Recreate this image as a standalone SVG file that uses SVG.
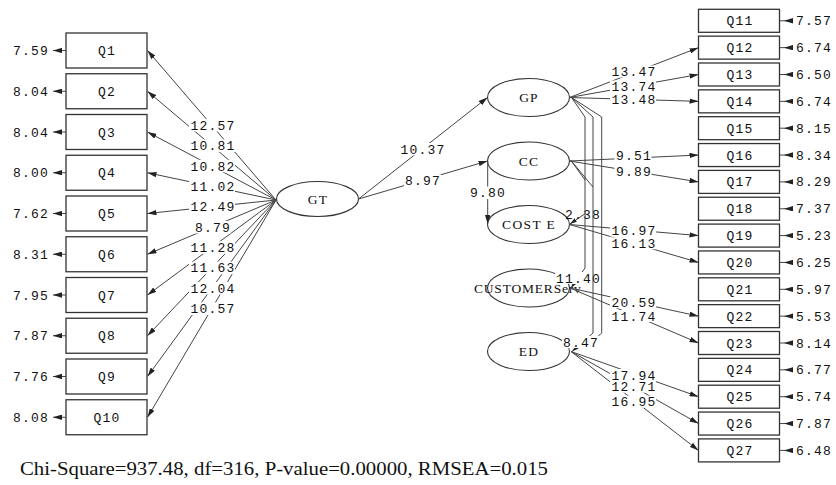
<svg xmlns="http://www.w3.org/2000/svg" width="836" height="485" viewBox="0 0 836 485">
<defs>
<marker id="ah" viewBox="0 0 10 6" refX="10" refY="3" markerWidth="9" markerHeight="5.4" markerUnits="userSpaceOnUse" orient="auto"><path d="M0,0 L10,3 L0,6 z" fill="#222"/></marker>
<marker id="ahs" viewBox="0 0 10 6" refX="10" refY="3" markerWidth="7" markerHeight="4.2" markerUnits="userSpaceOnUse" orient="auto"><path d="M0,0 L10,3 L0,6 z" fill="#222"/></marker>
</defs>
<style>
.box{fill:#fff;stroke:#333;stroke-width:1.3}
.ell{fill:#fff;stroke:#333;stroke-width:1.1}
.m{font-family:"Liberation Mono",monospace;font-size:13px;letter-spacing:1.2px;fill:#111}
.mc{text-anchor:middle}
.mr{text-anchor:end}
.s{font-family:"Liberation Serif",serif;font-size:13.5px;letter-spacing:1.2px;fill:#111;text-anchor:middle}
.ln{fill:none;stroke:#444;stroke-width:1}
.arr{fill:none;stroke:#444;stroke-width:1;marker-end:url(#ah)}
.bg{fill:#fff}
</style>
<rect width="836" height="485" fill="#fff"/>

<!-- Left indicator nodes -->
<g id="Q1"><rect class="box" x="66" y="33" width="81" height="35"/><text class="m mc" x="107" y="55">Q1</text><text class="m mr" x="49" y="55">7.59</text></g>
<g id="Q2"><rect class="box" x="66" y="73.75" width="81" height="35"/><text class="m mc" x="107" y="95.75">Q2</text><text class="m mr" x="49" y="95.75">8.04</text></g>
<g id="Q3"><rect class="box" x="66" y="114.5" width="81" height="35"/><text class="m mc" x="107" y="136.5">Q3</text><text class="m mr" x="49" y="136.5">8.04</text></g>
<g id="Q4"><rect class="box" x="66" y="155.25" width="81" height="35"/><text class="m mc" x="107" y="177.25">Q4</text><text class="m mr" x="49" y="177.25">8.00</text></g>
<g id="Q5"><rect class="box" x="66" y="196" width="81" height="35"/><text class="m mc" x="107" y="218">Q5</text><text class="m mr" x="49" y="218">7.62</text></g>
<g id="Q6"><rect class="box" x="66" y="236.75" width="81" height="35"/><text class="m mc" x="107" y="258.75">Q6</text><text class="m mr" x="49" y="258.75">8.31</text></g>
<g id="Q7"><rect class="box" x="66" y="277.5" width="81" height="35"/><text class="m mc" x="107" y="299.5">Q7</text><text class="m mr" x="49" y="299.5">7.95</text></g>
<g id="Q8"><rect class="box" x="66" y="318.25" width="81" height="35"/><text class="m mc" x="107" y="340.25">Q8</text><text class="m mr" x="49" y="340.25">7.87</text></g>
<g id="Q9"><rect class="box" x="66" y="359" width="81" height="35"/><text class="m mc" x="107" y="381">Q9</text><text class="m mr" x="49" y="381">7.76</text></g>
<g id="Q10"><rect class="box" x="66" y="399.75" width="81" height="35"/><text class="m mc" x="107" y="421.75">Q10</text><text class="m mr" x="49" y="421.75">8.08</text></g>

<!-- Right indicator nodes -->
<g id="Q11"><rect class="box" x="698.5" y="9.3" width="81" height="23"/><text class="m mc" x="740" y="25.3">Q11</text><text class="m" x="796" y="25.3">7.57</text></g>
<g id="Q12"><rect class="box" x="698.5" y="36.15" width="81" height="23"/><text class="m mc" x="740" y="52.15">Q12</text><text class="m" x="796" y="52.15">6.74</text></g>
<g id="Q13"><rect class="box" x="698.5" y="63" width="81" height="23"/><text class="m mc" x="740" y="79">Q13</text><text class="m" x="796" y="79">6.50</text></g>
<g id="Q14"><rect class="box" x="698.5" y="89.85" width="81" height="23"/><text class="m mc" x="740" y="105.85">Q14</text><text class="m" x="796" y="105.85">6.74</text></g>
<g id="Q15"><rect class="box" x="698.5" y="116.7" width="81" height="23"/><text class="m mc" x="740" y="132.7">Q15</text><text class="m" x="796" y="132.7">8.15</text></g>
<g id="Q16"><rect class="box" x="698.5" y="143.55" width="81" height="23"/><text class="m mc" x="740" y="159.55">Q16</text><text class="m" x="796" y="159.55">8.34</text></g>
<g id="Q17"><rect class="box" x="698.5" y="170.4" width="81" height="23"/><text class="m mc" x="740" y="186.4">Q17</text><text class="m" x="796" y="186.4">8.29</text></g>
<g id="Q18"><rect class="box" x="698.5" y="197.25" width="81" height="23"/><text class="m mc" x="740" y="213.25">Q18</text><text class="m" x="796" y="213.25">7.37</text></g>
<g id="Q19"><rect class="box" x="698.5" y="224.1" width="81" height="23"/><text class="m mc" x="740" y="240.1">Q19</text><text class="m" x="796" y="240.1">5.23</text></g>
<g id="Q20"><rect class="box" x="698.5" y="250.95" width="81" height="23"/><text class="m mc" x="740" y="266.95">Q20</text><text class="m" x="796" y="266.95">6.25</text></g>
<g id="Q21"><rect class="box" x="698.5" y="277.8" width="81" height="23"/><text class="m mc" x="740" y="293.8">Q21</text><text class="m" x="796" y="293.8">5.97</text></g>
<g id="Q22"><rect class="box" x="698.5" y="304.65" width="81" height="23"/><text class="m mc" x="740" y="320.65">Q22</text><text class="m" x="796" y="320.65">5.53</text></g>
<g id="Q23"><rect class="box" x="698.5" y="331.5" width="81" height="23"/><text class="m mc" x="740" y="347.5">Q23</text><text class="m" x="796" y="347.5">8.14</text></g>
<g id="Q24"><rect class="box" x="698.5" y="358.35" width="81" height="23"/><text class="m mc" x="740" y="374.35">Q24</text><text class="m" x="796" y="374.35">6.77</text></g>
<g id="Q25"><rect class="box" x="698.5" y="385.2" width="81" height="23"/><text class="m mc" x="740" y="401.2">Q25</text><text class="m" x="796" y="401.2">5.74</text></g>
<g id="Q26"><rect class="box" x="698.5" y="412.05" width="81" height="23"/><text class="m mc" x="740" y="428.05">Q26</text><text class="m" x="796" y="428.05">7.87</text></g>
<g id="Q27"><rect class="box" x="698.5" y="438.9" width="81" height="23"/><text class="m mc" x="740" y="454.9">Q27</text><text class="m" x="796" y="454.9">6.48</text></g>

<!-- Latent nodes -->
<g id="GT"><ellipse class="ell" cx="317.5" cy="199" rx="41" ry="17.5"/><text class="s" x="318" y="203.5">GT</text></g>
<g id="GP"><ellipse class="ell" cx="528.5" cy="97.5" rx="41" ry="19"/><text class="s" x="529" y="102">GP</text></g>
<g id="CC"><ellipse class="ell" cx="528.5" cy="161" rx="41" ry="19"/><text class="s" x="529" y="165.5">CC</text></g>
<g id="COSTE"><ellipse class="ell" cx="528.5" cy="224.5" rx="41" ry="19"/><text class="s" x="529" y="229" textLength="54" lengthAdjust="spacing">COST E</text></g>
<g id="CUSTOMERServ"><ellipse class="ell" cx="528.5" cy="288" rx="41" ry="19"/><text class="s" x="528" y="292.5" textLength="108" lengthAdjust="spacing">CUSTOMERServ</text></g>
<g id="ED"><ellipse class="ell" cx="528.5" cy="351.5" rx="41" ry="19"/><text class="s" x="529" y="356">ED</text></g>

<g id="connectors">
<!-- error arrows left -->
<path class="arr" d="M66,50.5 H53"/>
<path class="arr" d="M66,91.25 H53"/>
<path class="arr" d="M66,132 H53"/>
<path class="arr" d="M66,172.75 H53"/>
<path class="arr" d="M66,213.5 H53"/>
<path class="arr" d="M66,254.25 H53"/>
<path class="arr" d="M66,295 H53"/>
<path class="arr" d="M66,335.75 H53"/>
<path class="arr" d="M66,376.5 H53"/>
<path class="arr" d="M66,417.25 H53"/>
<!-- error arrows right -->
<path class="arr" d="M780,20.8 H784 M793,20.8 H784"/>
<path class="arr" d="M780,47.65 H784 M793,47.65 H784"/>
<path class="arr" d="M780,74.5 H784 M793,74.5 H784"/>
<path class="arr" d="M780,101.35 H784 M793,101.35 H784"/>
<path class="arr" d="M780,128.2 H784 M793,128.2 H784"/>
<path class="arr" d="M780,155.05 H784 M793,155.05 H784"/>
<path class="arr" d="M780,181.9 H784 M793,181.9 H784"/>
<path class="arr" d="M780,208.75 H784 M793,208.75 H784"/>
<path class="arr" d="M780,235.6 H784 M793,235.6 H784"/>
<path class="arr" d="M780,262.45 H784 M793,262.45 H784"/>
<path class="arr" d="M780,289.3 H784 M793,289.3 H784"/>
<path class="arr" d="M780,316.15 H784 M793,316.15 H784"/>
<path class="arr" d="M780,343 H784 M793,343 H784"/>
<path class="arr" d="M780,369.85 H784 M793,369.85 H784"/>
<path class="arr" d="M780,396.7 H784 M793,396.7 H784"/>
<path class="arr" d="M780,423.55 H784 M793,423.55 H784"/>
<path class="arr" d="M780,450.4 H784 M793,450.4 H784"/>
<!-- GT loadings -->
<path class="arr" d="M276,200 L147.5,50.5"/>
<path class="arr" d="M276,200 L147.5,91.25"/>
<path class="arr" d="M276,200 L147.5,132"/>
<path class="arr" d="M276,200 L147.5,172.75"/>
<path class="arr" d="M276,200 L147.5,213.5"/>
<path class="arr" d="M276,200 L147.5,254.25"/>
<path class="arr" d="M276,200 L147.5,295"/>
<path class="arr" d="M276,200 L147.5,335.75"/>
<path class="arr" d="M276,200 L147.5,376.5"/>
<path class="arr" d="M276,200 L147.5,417.25"/>
<!-- structural paths -->
<path class="arr" d="M358.5,199 L487.5,97.5"/>
<path class="arr" d="M358.5,199 L487.5,161"/>
<path class="arr" d="M487.7,161 V224"/>
<!-- right loadings -->
<path class="arr" d="M569.5,97.5 L698.5,47.65"/>
<path class="arr" d="M569.5,97.5 L698.5,74.5"/>
<path class="arr" d="M569.5,97.5 L698.5,101.35"/>
<path class="arr" d="M569.5,161 L698.5,155.05"/>
<path class="arr" d="M569.5,161 L698.5,181.9"/>
<path class="arr" d="M569.5,224.5 L698.5,235.6"/>
<path class="arr" d="M569.5,224.5 L698.5,262.45"/>
<path class="arr" d="M570,288 L698.5,316.15"/>
<path class="arr" d="M570,288 L698.5,343"/>
<path class="arr" d="M571,351.5 L698.5,396.7"/>
<path class="arr" d="M571,351.5 L698.5,423.55"/>
<path class="arr" d="M571,351.5 L698.5,450.4"/>
<!-- covariance ends hidden under labels -->
<path class="ln" d="M585,268 L571,288" marker-end="url(#ahs)"/>
<path class="ln" d="M593,333 L572,351.5" marker-end="url(#ahs)"/>
<path class="ln" d="M601.7,333 L594,340"/>
<path class="ln" d="M586,213 L570,224" marker-end="url(#ahs)"/>

<!-- label backgrounds -->
<g class="bg">
<rect x="189" y="119" width="46" height="12.5"/>
<rect x="189" y="139.4" width="46" height="12.5"/>
<rect x="189" y="159.8" width="46" height="12.5"/>
<rect x="189" y="180.2" width="46" height="12.5"/>
<rect x="189" y="200.5" width="46" height="12.5"/>
<rect x="194" y="220.9" width="37" height="12.5"/>
<rect x="189" y="241.3" width="46" height="12.5"/>
<rect x="189" y="261.7" width="46" height="12.5"/>
<rect x="189" y="282" width="46" height="12.5"/>
<rect x="189" y="302.4" width="46" height="12.5"/>
<rect x="399" y="143" width="46" height="12.5"/>
<rect x="404" y="174.5" width="37" height="12.5"/>
<rect x="469" y="186.5" width="37" height="12.5"/>
<rect x="610" y="65.5" width="46" height="12"/>
<rect x="610" y="80.5" width="46" height="12"/>
<rect x="610" y="93.3" width="46" height="12"/>
<rect x="614.5" y="149.5" width="37" height="12"/>
<rect x="614.5" y="165.5" width="37" height="12"/>
<rect x="610" y="224.5" width="46" height="12"/>
<rect x="610" y="237.3" width="46" height="12"/>
<rect x="555" y="272" width="46" height="12"/>
<rect x="610" y="296.3" width="46" height="12"/>
<rect x="610" y="310" width="46" height="12"/>
<rect x="562" y="336" width="37" height="12"/>
<rect x="610" y="369" width="46" height="12"/>
<rect x="610" y="380.7" width="46" height="12"/>
<rect x="610" y="395.7" width="46" height="12"/>
</g>

<!-- labels -->
<g class="m mc">
<text x="213" y="129.7">12.57</text>
<text x="213" y="150.1">10.81</text>
<text x="213" y="170.5">10.82</text>
<text x="213" y="190.9">11.02</text>
<text x="213" y="211.2">12.49</text>
<text x="213" y="231.6">8.79</text>
<text x="213" y="252">11.28</text>
<text x="213" y="272.4">11.63</text>
<text x="213" y="292.7">12.04</text>
<text x="213" y="313.1">10.57</text>
<text x="423" y="153.8">10.37</text>
<text x="423" y="185.2">8.97</text>
<text x="488" y="197.2">9.80</text>
<text x="634" y="76.2">13.47</text>
<text x="634" y="91">13.74</text>
<text x="634" y="103.8">13.48</text>
<text x="634" y="160.2">9.51</text>
<text x="634" y="176">9.89</text>
<text x="583" y="219">2.38</text>
<text x="634" y="235.2">16.97</text>
<text x="634" y="247.8">16.13</text>
<text x="578.5" y="282.5">11.40</text>
<text x="634" y="306.8">20.59</text>
<text x="634" y="320.5">11.74</text>
<text x="581" y="346.5">8.47</text>
<text x="634" y="379.5">17.94</text>
<text x="634" y="391.2">12.71</text>
<text x="634" y="406.2">16.95</text>
</g>

<!-- covariance verticals drawn over labels -->
<path class="ln" d="M571.5,97.5 L585,117 V268"/>
<path class="ln" d="M571.5,97.5 L593,117 V333"/>
<path class="ln" d="M571.5,97.5 L601.7,117 V333"/>
<path class="ln" d="M571,160.5 L585,180"/>
<path class="ln" d="M571,160.5 L593,187"/>
</g>

<text x="20" y="475" font-family="Liberation Serif, serif" font-size="18" fill="#111" textLength="528" lengthAdjust="spacingAndGlyphs">Chi-Square=937.48, df=316, P-value=0.00000, RMSEA=0.015</text>
</svg>
